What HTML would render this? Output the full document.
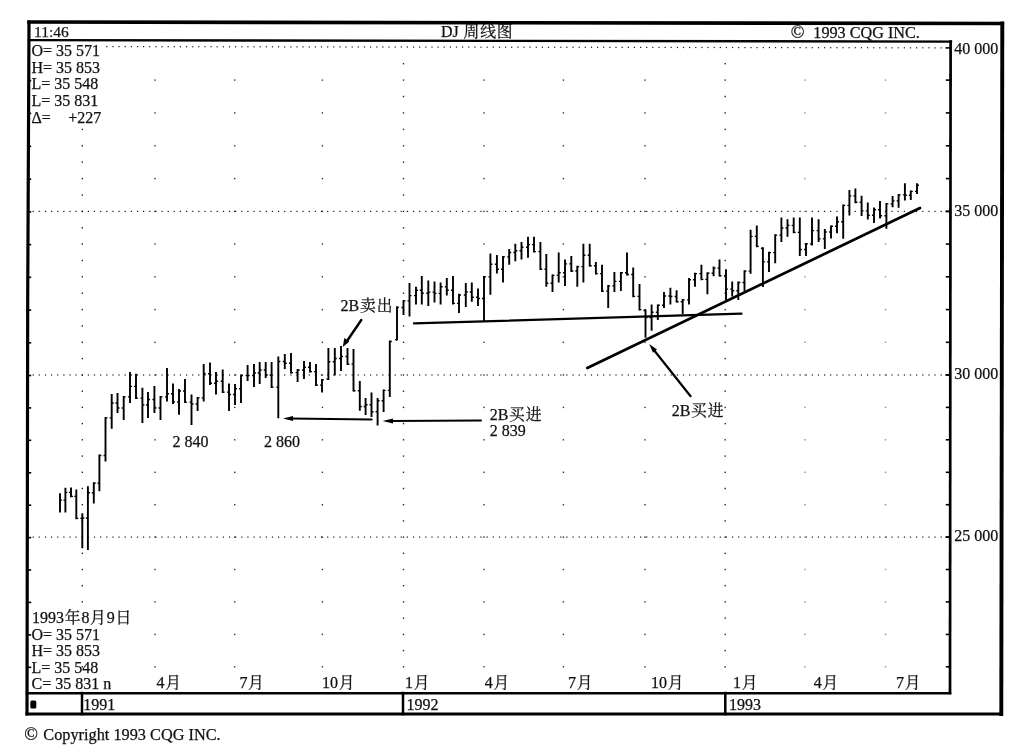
<!DOCTYPE html>
<html lang="zh"><head><meta charset="utf-8"><title>DJ 周线图</title>
<style>html,body{margin:0;padding:0;background:#fff}body{width:1024px;height:753px;overflow:hidden}svg{display:block;will-change:transform}text{font-family:"Liberation Serif","Noto Serif CJK SC",serif;font-size:16px;fill:#111;stroke:#111;stroke-width:.25px}.c{font-size:15.8px;letter-spacing:.9px}</style></head><body>
<svg width="1024" height="753" viewBox="0 0 1024 753">
<rect width="1024" height="753" fill="#fff"/>
<g stroke="#000" fill="none" stroke-linecap="square">
<path d="M29 22 L1002.3 23.5" stroke-width="3.6"/>
<path d="M29 22 L27.7 300 L27 714" stroke-width="3.2"/>
<path d="M1002.3 23.5 L1001.3 714" stroke-width="3.9"/>
<path d="M27 714 L1001.3 714" stroke-width="3"/>
<path d="M29 40.1 L951 41.6" stroke-width="2.4"/>
<path d="M950.6 41.6 L950 693" stroke-width="2.7"/>
<path d="M27 693.2 L950 693.2" stroke-width="2.5"/>
<path d="M82 693 L82 714" stroke-width="2.5"/>
<path d="M403 693 L403 714" stroke-width="2.5"/>
<path d="M725.3 693 L725.3 714" stroke-width="2.5"/>
</g>
<rect x="30.3" y="700.6" width="6" height="8" rx="1.5" fill="#000"/>
<g stroke="#000" stroke-width="1.6">
<path d="M945.8 80.1 H950"/>
<path d="M28 80.6 H31.2"/>
<path d="M945.8 112.9 H950"/>
<path d="M28 113.4 H31.2"/>
<path d="M945.8 145.8 H950"/>
<path d="M28 146.3 H31.2"/>
<path d="M945.8 178.6 H950"/>
<path d="M28 179.1 H31.2"/>
<path d="M945.8 211.4 H950"/>
<path d="M28 211.9 H31.2"/>
<path d="M945.8 244.1 H950"/>
<path d="M28 244.6 H31.2"/>
<path d="M945.8 276.8 H950"/>
<path d="M28 277.3 H31.2"/>
<path d="M945.8 309.6 H950"/>
<path d="M28 310.1 H31.2"/>
<path d="M945.8 342.3 H950"/>
<path d="M28 342.8 H31.2"/>
<path d="M945.8 375.0 H950"/>
<path d="M28 375.5 H31.2"/>
<path d="M945.8 407.4 H950"/>
<path d="M28 407.9 H31.2"/>
<path d="M945.8 439.8 H950"/>
<path d="M28 440.3 H31.2"/>
<path d="M945.8 472.3 H950"/>
<path d="M28 472.8 H31.2"/>
<path d="M945.8 504.7 H950"/>
<path d="M28 505.2 H31.2"/>
<path d="M945.8 537.1 H950"/>
<path d="M28 537.6 H31.2"/>
<path d="M945.8 569.5 H950"/>
<path d="M28 570.0 H31.2"/>
<path d="M945.8 601.9 H950"/>
<path d="M28 602.4 H31.2"/>
<path d="M945.8 634.4 H950"/>
<path d="M28 634.9 H31.2"/>
<path d="M945.8 666.8 H950"/>
<path d="M28 667.3 H31.2"/>
<path d="M945.5 47.9 H950"/>
<path d="M945.5 211.4 H950"/>
<path d="M945.5 375.0 H950"/>
<path d="M945.5 537.1 H950"/>
</g>
<g fill="#000">
<rect x="106.2" y="46.0" width="1.2" height="1.2" opacity="0.90"/>
<rect x="112.4" y="46.0" width="1.2" height="1.2" opacity="0.90"/>
<rect x="118.5" y="46.0" width="1.2" height="1.2" opacity="0.90"/>
<rect x="124.6" y="46.0" width="1.2" height="1.2" opacity="0.90"/>
<rect x="130.8" y="46.0" width="1.2" height="1.2" opacity="0.90"/>
<rect x="136.9" y="46.0" width="1.2" height="1.2" opacity="0.90"/>
<rect x="143.0" y="46.0" width="1.2" height="1.2" opacity="0.90"/>
<rect x="149.2" y="46.1" width="1.2" height="1.2" opacity="0.90"/>
<rect x="155.3" y="46.1" width="1.2" height="1.2" opacity="0.90"/>
<rect x="161.4" y="46.1" width="1.2" height="1.2" opacity="0.90"/>
<rect x="167.6" y="46.1" width="1.2" height="1.2" opacity="0.90"/>
<rect x="173.7" y="46.1" width="1.2" height="1.2" opacity="0.90"/>
<rect x="179.8" y="46.1" width="1.2" height="1.2" opacity="0.90"/>
<rect x="186.0" y="46.1" width="1.2" height="1.2" opacity="0.90"/>
<rect x="192.1" y="46.1" width="1.2" height="1.2" opacity="0.90"/>
<rect x="198.2" y="46.1" width="1.2" height="1.2" opacity="0.90"/>
<rect x="204.4" y="46.1" width="1.2" height="1.2" opacity="0.90"/>
<rect x="210.5" y="46.1" width="1.2" height="1.2" opacity="0.90"/>
<rect x="216.6" y="46.2" width="1.2" height="1.2" opacity="0.90"/>
<rect x="222.8" y="46.2" width="1.2" height="1.2" opacity="0.90"/>
<rect x="228.9" y="46.2" width="1.2" height="1.2" opacity="0.90"/>
<rect x="235.0" y="46.2" width="1.2" height="1.2" opacity="0.90"/>
<rect x="241.2" y="46.2" width="1.2" height="1.2" opacity="0.90"/>
<rect x="247.3" y="46.2" width="1.2" height="1.2" opacity="0.90"/>
<rect x="253.5" y="46.2" width="1.2" height="1.2" opacity="0.90"/>
<rect x="259.6" y="46.2" width="1.2" height="1.2" opacity="0.90"/>
<rect x="265.7" y="46.2" width="1.2" height="1.2" opacity="0.90"/>
<rect x="271.9" y="46.2" width="1.2" height="1.2" opacity="0.90"/>
<rect x="278.0" y="46.2" width="1.2" height="1.2" opacity="0.90"/>
<rect x="284.1" y="46.3" width="1.2" height="1.2" opacity="0.90"/>
<rect x="290.3" y="46.3" width="1.2" height="1.2" opacity="0.90"/>
<rect x="296.4" y="46.3" width="1.2" height="1.2" opacity="0.90"/>
<rect x="302.5" y="46.3" width="1.2" height="1.2" opacity="0.90"/>
<rect x="308.7" y="46.3" width="1.2" height="1.2" opacity="0.90"/>
<rect x="314.8" y="46.3" width="1.2" height="1.2" opacity="0.90"/>
<rect x="320.9" y="46.3" width="1.2" height="1.2" opacity="0.90"/>
<rect x="327.1" y="46.3" width="1.2" height="1.2" opacity="0.90"/>
<rect x="333.2" y="46.3" width="1.2" height="1.2" opacity="0.90"/>
<rect x="339.3" y="46.3" width="1.2" height="1.2" opacity="0.90"/>
<rect x="345.5" y="46.4" width="1.2" height="1.2" opacity="0.90"/>
<rect x="351.6" y="46.4" width="1.2" height="1.2" opacity="0.90"/>
<rect x="357.7" y="46.4" width="1.2" height="1.2" opacity="0.90"/>
<rect x="363.9" y="46.4" width="1.2" height="1.2" opacity="0.90"/>
<rect x="370.0" y="46.4" width="1.2" height="1.2" opacity="0.90"/>
<rect x="376.2" y="46.4" width="1.2" height="1.2" opacity="0.90"/>
<rect x="382.3" y="46.4" width="1.2" height="1.2" opacity="0.90"/>
<rect x="388.4" y="46.4" width="1.2" height="1.2" opacity="0.90"/>
<rect x="394.6" y="46.4" width="1.2" height="1.2" opacity="0.90"/>
<rect x="400.7" y="46.4" width="1.2" height="1.2" opacity="0.90"/>
<rect x="406.8" y="46.4" width="1.2" height="1.2" opacity="0.90"/>
<rect x="413.0" y="46.5" width="1.2" height="1.2" opacity="0.90"/>
<rect x="419.1" y="46.5" width="1.2" height="1.2" opacity="0.90"/>
<rect x="425.2" y="46.5" width="1.2" height="1.2" opacity="0.90"/>
<rect x="431.4" y="46.5" width="1.2" height="1.2" opacity="0.90"/>
<rect x="437.5" y="46.5" width="1.2" height="1.2" opacity="0.90"/>
<rect x="443.6" y="46.5" width="1.2" height="1.2" opacity="0.90"/>
<rect x="449.8" y="46.5" width="1.2" height="1.2" opacity="0.90"/>
<rect x="455.9" y="46.5" width="1.2" height="1.2" opacity="0.90"/>
<rect x="462.0" y="46.5" width="1.2" height="1.2" opacity="0.90"/>
<rect x="468.2" y="46.5" width="1.2" height="1.2" opacity="0.90"/>
<rect x="474.3" y="46.5" width="1.2" height="1.2" opacity="0.90"/>
<rect x="480.4" y="46.6" width="1.2" height="1.2" opacity="0.90"/>
<rect x="486.6" y="46.6" width="1.2" height="1.2" opacity="0.90"/>
<rect x="492.7" y="46.6" width="1.2" height="1.2" opacity="0.90"/>
<rect x="498.9" y="46.6" width="1.2" height="1.2" opacity="0.90"/>
<rect x="505.0" y="46.6" width="1.2" height="1.2" opacity="0.90"/>
<rect x="511.1" y="46.6" width="1.2" height="1.2" opacity="0.90"/>
<rect x="517.3" y="46.6" width="1.2" height="1.2" opacity="0.90"/>
<rect x="523.4" y="46.6" width="1.2" height="1.2" opacity="0.90"/>
<rect x="529.5" y="46.6" width="1.2" height="1.2" opacity="0.90"/>
<rect x="535.7" y="46.6" width="1.2" height="1.2" opacity="0.90"/>
<rect x="541.8" y="46.7" width="1.2" height="1.2" opacity="0.90"/>
<rect x="547.9" y="46.7" width="1.2" height="1.2" opacity="0.90"/>
<rect x="554.1" y="46.7" width="1.2" height="1.2" opacity="0.90"/>
<rect x="560.2" y="46.7" width="1.2" height="1.2" opacity="0.90"/>
<rect x="566.3" y="46.7" width="1.2" height="1.2" opacity="0.90"/>
<rect x="572.5" y="46.7" width="1.2" height="1.2" opacity="0.90"/>
<rect x="578.6" y="46.7" width="1.2" height="1.2" opacity="0.90"/>
<rect x="584.7" y="46.7" width="1.2" height="1.2" opacity="0.90"/>
<rect x="590.9" y="46.7" width="1.2" height="1.2" opacity="0.90"/>
<rect x="597.0" y="46.7" width="1.2" height="1.2" opacity="0.90"/>
<rect x="603.1" y="46.7" width="1.2" height="1.2" opacity="0.90"/>
<rect x="609.3" y="46.8" width="1.2" height="1.2" opacity="0.90"/>
<rect x="615.4" y="46.8" width="1.2" height="1.2" opacity="0.90"/>
<rect x="621.6" y="46.8" width="1.2" height="1.2" opacity="0.90"/>
<rect x="627.7" y="46.8" width="1.2" height="1.2" opacity="0.90"/>
<rect x="633.8" y="46.8" width="1.2" height="1.2" opacity="0.90"/>
<rect x="640.0" y="46.8" width="1.2" height="1.2" opacity="0.90"/>
<rect x="646.1" y="46.8" width="1.2" height="1.2" opacity="0.90"/>
<rect x="652.2" y="46.8" width="1.2" height="1.2" opacity="0.90"/>
<rect x="658.4" y="46.8" width="1.2" height="1.2" opacity="0.90"/>
<rect x="664.5" y="46.8" width="1.2" height="1.2" opacity="0.90"/>
<rect x="670.6" y="46.8" width="1.2" height="1.2" opacity="0.90"/>
<rect x="676.8" y="46.9" width="1.2" height="1.2" opacity="0.90"/>
<rect x="682.9" y="46.9" width="1.2" height="1.2" opacity="0.90"/>
<rect x="689.0" y="46.9" width="1.2" height="1.2" opacity="0.90"/>
<rect x="695.2" y="46.9" width="1.2" height="1.2" opacity="0.90"/>
<rect x="701.3" y="46.9" width="1.2" height="1.2" opacity="0.90"/>
<rect x="707.4" y="46.9" width="1.2" height="1.2" opacity="0.90"/>
<rect x="713.6" y="46.9" width="1.2" height="1.2" opacity="0.90"/>
<rect x="719.7" y="46.9" width="1.2" height="1.2" opacity="0.90"/>
<rect x="725.8" y="46.9" width="1.2" height="1.2" opacity="0.90"/>
<rect x="732.0" y="46.9" width="1.2" height="1.2" opacity="0.90"/>
<rect x="738.1" y="47.0" width="1.2" height="1.2" opacity="0.90"/>
<rect x="744.3" y="47.0" width="1.2" height="1.2" opacity="0.90"/>
<rect x="750.4" y="47.0" width="1.2" height="1.2" opacity="0.90"/>
<rect x="756.5" y="47.0" width="1.2" height="1.2" opacity="0.90"/>
<rect x="762.7" y="47.0" width="1.2" height="1.2" opacity="0.90"/>
<rect x="768.8" y="47.0" width="1.2" height="1.2" opacity="0.90"/>
<rect x="774.9" y="47.0" width="1.2" height="1.2" opacity="0.90"/>
<rect x="781.1" y="47.0" width="1.2" height="1.2" opacity="0.90"/>
<rect x="787.2" y="47.0" width="1.2" height="1.2" opacity="0.90"/>
<rect x="793.3" y="47.0" width="1.2" height="1.2" opacity="0.90"/>
<rect x="799.5" y="47.0" width="1.2" height="1.2" opacity="0.90"/>
<rect x="805.6" y="47.1" width="1.2" height="1.2" opacity="0.90"/>
<rect x="811.7" y="47.1" width="1.2" height="1.2" opacity="0.90"/>
<rect x="817.9" y="47.1" width="1.2" height="1.2" opacity="0.90"/>
<rect x="824.0" y="47.1" width="1.2" height="1.2" opacity="0.90"/>
<rect x="830.1" y="47.1" width="1.2" height="1.2" opacity="0.90"/>
<rect x="836.3" y="47.1" width="1.2" height="1.2" opacity="0.90"/>
<rect x="842.4" y="47.1" width="1.2" height="1.2" opacity="0.90"/>
<rect x="848.5" y="47.1" width="1.2" height="1.2" opacity="0.90"/>
<rect x="854.7" y="47.1" width="1.2" height="1.2" opacity="0.90"/>
<rect x="860.8" y="47.1" width="1.2" height="1.2" opacity="0.90"/>
<rect x="867.0" y="47.1" width="1.2" height="1.2" opacity="0.90"/>
<rect x="873.1" y="47.2" width="1.2" height="1.2" opacity="0.90"/>
<rect x="879.2" y="47.2" width="1.2" height="1.2" opacity="0.90"/>
<rect x="885.4" y="47.2" width="1.2" height="1.2" opacity="0.90"/>
<rect x="891.5" y="47.2" width="1.2" height="1.2" opacity="0.90"/>
<rect x="897.6" y="47.2" width="1.2" height="1.2" opacity="0.90"/>
<rect x="903.8" y="47.2" width="1.2" height="1.2" opacity="0.90"/>
<rect x="909.9" y="47.2" width="1.2" height="1.2" opacity="0.90"/>
<rect x="916.0" y="47.2" width="1.2" height="1.2" opacity="0.90"/>
<rect x="922.2" y="47.2" width="1.2" height="1.2" opacity="0.90"/>
<rect x="928.3" y="47.2" width="1.2" height="1.2" opacity="0.90"/>
<rect x="934.4" y="47.3" width="1.2" height="1.2" opacity="0.90"/>
<rect x="940.6" y="47.3" width="1.2" height="1.2" opacity="0.90"/>
<rect x="32.6" y="210.8" width="1.2" height="1.2" opacity="0.90"/>
<rect x="38.7" y="210.8" width="1.2" height="1.2" opacity="0.90"/>
<rect x="44.9" y="210.8" width="1.2" height="1.2" opacity="0.90"/>
<rect x="51.0" y="210.8" width="1.2" height="1.2" opacity="0.90"/>
<rect x="57.1" y="210.8" width="1.2" height="1.2" opacity="0.90"/>
<rect x="63.3" y="210.8" width="1.2" height="1.2" opacity="0.90"/>
<rect x="69.4" y="210.8" width="1.2" height="1.2" opacity="0.90"/>
<rect x="75.5" y="210.8" width="1.2" height="1.2" opacity="0.90"/>
<rect x="81.7" y="210.8" width="1.2" height="1.2" opacity="0.90"/>
<rect x="87.8" y="210.8" width="1.2" height="1.2" opacity="0.90"/>
<rect x="93.9" y="210.8" width="1.2" height="1.2" opacity="0.90"/>
<rect x="100.1" y="210.8" width="1.2" height="1.2" opacity="0.90"/>
<rect x="106.2" y="210.8" width="1.2" height="1.2" opacity="0.90"/>
<rect x="112.4" y="210.8" width="1.2" height="1.2" opacity="0.90"/>
<rect x="118.5" y="210.8" width="1.2" height="1.2" opacity="0.90"/>
<rect x="124.6" y="210.8" width="1.2" height="1.2" opacity="0.90"/>
<rect x="130.8" y="210.8" width="1.2" height="1.2" opacity="0.90"/>
<rect x="136.9" y="210.8" width="1.2" height="1.2" opacity="0.90"/>
<rect x="143.0" y="210.8" width="1.2" height="1.2" opacity="0.90"/>
<rect x="149.2" y="210.8" width="1.2" height="1.2" opacity="0.90"/>
<rect x="155.3" y="210.8" width="1.2" height="1.2" opacity="0.90"/>
<rect x="161.4" y="210.8" width="1.2" height="1.2" opacity="0.90"/>
<rect x="167.6" y="210.8" width="1.2" height="1.2" opacity="0.90"/>
<rect x="173.7" y="210.8" width="1.2" height="1.2" opacity="0.90"/>
<rect x="179.8" y="210.8" width="1.2" height="1.2" opacity="0.90"/>
<rect x="186.0" y="210.8" width="1.2" height="1.2" opacity="0.90"/>
<rect x="192.1" y="210.8" width="1.2" height="1.2" opacity="0.90"/>
<rect x="198.2" y="210.8" width="1.2" height="1.2" opacity="0.90"/>
<rect x="204.4" y="210.8" width="1.2" height="1.2" opacity="0.90"/>
<rect x="210.5" y="210.8" width="1.2" height="1.2" opacity="0.90"/>
<rect x="216.6" y="210.8" width="1.2" height="1.2" opacity="0.90"/>
<rect x="222.8" y="210.8" width="1.2" height="1.2" opacity="0.90"/>
<rect x="228.9" y="210.8" width="1.2" height="1.2" opacity="0.90"/>
<rect x="235.0" y="210.8" width="1.2" height="1.2" opacity="0.90"/>
<rect x="241.2" y="210.8" width="1.2" height="1.2" opacity="0.90"/>
<rect x="247.3" y="210.8" width="1.2" height="1.2" opacity="0.90"/>
<rect x="253.5" y="210.8" width="1.2" height="1.2" opacity="0.90"/>
<rect x="259.6" y="210.8" width="1.2" height="1.2" opacity="0.90"/>
<rect x="265.7" y="210.8" width="1.2" height="1.2" opacity="0.90"/>
<rect x="271.9" y="210.8" width="1.2" height="1.2" opacity="0.90"/>
<rect x="278.0" y="210.8" width="1.2" height="1.2" opacity="0.90"/>
<rect x="284.1" y="210.8" width="1.2" height="1.2" opacity="0.90"/>
<rect x="290.3" y="210.8" width="1.2" height="1.2" opacity="0.90"/>
<rect x="296.4" y="210.8" width="1.2" height="1.2" opacity="0.90"/>
<rect x="302.5" y="210.8" width="1.2" height="1.2" opacity="0.90"/>
<rect x="308.7" y="210.8" width="1.2" height="1.2" opacity="0.90"/>
<rect x="314.8" y="210.8" width="1.2" height="1.2" opacity="0.90"/>
<rect x="320.9" y="210.8" width="1.2" height="1.2" opacity="0.90"/>
<rect x="327.1" y="210.8" width="1.2" height="1.2" opacity="0.90"/>
<rect x="333.2" y="210.8" width="1.2" height="1.2" opacity="0.90"/>
<rect x="339.3" y="210.8" width="1.2" height="1.2" opacity="0.90"/>
<rect x="345.5" y="210.8" width="1.2" height="1.2" opacity="0.90"/>
<rect x="351.6" y="210.8" width="1.2" height="1.2" opacity="0.90"/>
<rect x="357.7" y="210.8" width="1.2" height="1.2" opacity="0.90"/>
<rect x="363.9" y="210.8" width="1.2" height="1.2" opacity="0.90"/>
<rect x="370.0" y="210.8" width="1.2" height="1.2" opacity="0.90"/>
<rect x="376.2" y="210.8" width="1.2" height="1.2" opacity="0.90"/>
<rect x="382.3" y="210.8" width="1.2" height="1.2" opacity="0.90"/>
<rect x="388.4" y="210.8" width="1.2" height="1.2" opacity="0.90"/>
<rect x="394.6" y="210.8" width="1.2" height="1.2" opacity="0.90"/>
<rect x="400.7" y="210.8" width="1.2" height="1.2" opacity="0.90"/>
<rect x="406.8" y="210.8" width="1.2" height="1.2" opacity="0.90"/>
<rect x="413.0" y="210.8" width="1.2" height="1.2" opacity="0.90"/>
<rect x="419.1" y="210.8" width="1.2" height="1.2" opacity="0.90"/>
<rect x="425.2" y="210.8" width="1.2" height="1.2" opacity="0.90"/>
<rect x="431.4" y="210.8" width="1.2" height="1.2" opacity="0.90"/>
<rect x="437.5" y="210.8" width="1.2" height="1.2" opacity="0.90"/>
<rect x="443.6" y="210.8" width="1.2" height="1.2" opacity="0.90"/>
<rect x="449.8" y="210.8" width="1.2" height="1.2" opacity="0.90"/>
<rect x="455.9" y="210.8" width="1.2" height="1.2" opacity="0.90"/>
<rect x="462.0" y="210.8" width="1.2" height="1.2" opacity="0.90"/>
<rect x="468.2" y="210.8" width="1.2" height="1.2" opacity="0.90"/>
<rect x="474.3" y="210.8" width="1.2" height="1.2" opacity="0.90"/>
<rect x="480.4" y="210.8" width="1.2" height="1.2" opacity="0.90"/>
<rect x="486.6" y="210.8" width="1.2" height="1.2" opacity="0.90"/>
<rect x="492.7" y="210.8" width="1.2" height="1.2" opacity="0.90"/>
<rect x="498.9" y="210.8" width="1.2" height="1.2" opacity="0.90"/>
<rect x="505.0" y="210.8" width="1.2" height="1.2" opacity="0.90"/>
<rect x="511.1" y="210.8" width="1.2" height="1.2" opacity="0.90"/>
<rect x="517.3" y="210.8" width="1.2" height="1.2" opacity="0.90"/>
<rect x="523.4" y="210.8" width="1.2" height="1.2" opacity="0.90"/>
<rect x="529.5" y="210.8" width="1.2" height="1.2" opacity="0.90"/>
<rect x="535.7" y="210.8" width="1.2" height="1.2" opacity="0.90"/>
<rect x="541.8" y="210.8" width="1.2" height="1.2" opacity="0.90"/>
<rect x="547.9" y="210.8" width="1.2" height="1.2" opacity="0.90"/>
<rect x="554.1" y="210.8" width="1.2" height="1.2" opacity="0.90"/>
<rect x="560.2" y="210.8" width="1.2" height="1.2" opacity="0.90"/>
<rect x="566.3" y="210.8" width="1.2" height="1.2" opacity="0.90"/>
<rect x="572.5" y="210.8" width="1.2" height="1.2" opacity="0.90"/>
<rect x="578.6" y="210.8" width="1.2" height="1.2" opacity="0.90"/>
<rect x="584.7" y="210.8" width="1.2" height="1.2" opacity="0.90"/>
<rect x="590.9" y="210.8" width="1.2" height="1.2" opacity="0.90"/>
<rect x="597.0" y="210.8" width="1.2" height="1.2" opacity="0.90"/>
<rect x="603.1" y="210.8" width="1.2" height="1.2" opacity="0.90"/>
<rect x="609.3" y="210.8" width="1.2" height="1.2" opacity="0.90"/>
<rect x="615.4" y="210.8" width="1.2" height="1.2" opacity="0.90"/>
<rect x="621.6" y="210.8" width="1.2" height="1.2" opacity="0.90"/>
<rect x="627.7" y="210.8" width="1.2" height="1.2" opacity="0.90"/>
<rect x="633.8" y="210.8" width="1.2" height="1.2" opacity="0.90"/>
<rect x="640.0" y="210.8" width="1.2" height="1.2" opacity="0.90"/>
<rect x="646.1" y="210.8" width="1.2" height="1.2" opacity="0.90"/>
<rect x="652.2" y="210.8" width="1.2" height="1.2" opacity="0.90"/>
<rect x="658.4" y="210.8" width="1.2" height="1.2" opacity="0.90"/>
<rect x="664.5" y="210.8" width="1.2" height="1.2" opacity="0.90"/>
<rect x="670.6" y="210.8" width="1.2" height="1.2" opacity="0.90"/>
<rect x="676.8" y="210.8" width="1.2" height="1.2" opacity="0.90"/>
<rect x="682.9" y="210.8" width="1.2" height="1.2" opacity="0.90"/>
<rect x="689.0" y="210.8" width="1.2" height="1.2" opacity="0.90"/>
<rect x="695.2" y="210.8" width="1.2" height="1.2" opacity="0.90"/>
<rect x="701.3" y="210.8" width="1.2" height="1.2" opacity="0.90"/>
<rect x="707.4" y="210.8" width="1.2" height="1.2" opacity="0.90"/>
<rect x="713.6" y="210.8" width="1.2" height="1.2" opacity="0.90"/>
<rect x="719.7" y="210.8" width="1.2" height="1.2" opacity="0.90"/>
<rect x="725.8" y="210.8" width="1.2" height="1.2" opacity="0.90"/>
<rect x="732.0" y="210.8" width="1.2" height="1.2" opacity="0.90"/>
<rect x="738.1" y="210.8" width="1.2" height="1.2" opacity="0.90"/>
<rect x="744.3" y="210.8" width="1.2" height="1.2" opacity="0.90"/>
<rect x="750.4" y="210.8" width="1.2" height="1.2" opacity="0.90"/>
<rect x="756.5" y="210.8" width="1.2" height="1.2" opacity="0.90"/>
<rect x="762.7" y="210.8" width="1.2" height="1.2" opacity="0.90"/>
<rect x="768.8" y="210.8" width="1.2" height="1.2" opacity="0.90"/>
<rect x="774.9" y="210.8" width="1.2" height="1.2" opacity="0.90"/>
<rect x="781.1" y="210.8" width="1.2" height="1.2" opacity="0.90"/>
<rect x="787.2" y="210.8" width="1.2" height="1.2" opacity="0.90"/>
<rect x="793.3" y="210.8" width="1.2" height="1.2" opacity="0.90"/>
<rect x="799.5" y="210.8" width="1.2" height="1.2" opacity="0.90"/>
<rect x="805.6" y="210.8" width="1.2" height="1.2" opacity="0.90"/>
<rect x="811.7" y="210.8" width="1.2" height="1.2" opacity="0.90"/>
<rect x="817.9" y="210.8" width="1.2" height="1.2" opacity="0.90"/>
<rect x="824.0" y="210.8" width="1.2" height="1.2" opacity="0.90"/>
<rect x="830.1" y="210.8" width="1.2" height="1.2" opacity="0.90"/>
<rect x="836.3" y="210.8" width="1.2" height="1.2" opacity="0.90"/>
<rect x="842.4" y="210.8" width="1.2" height="1.2" opacity="0.90"/>
<rect x="848.5" y="210.8" width="1.2" height="1.2" opacity="0.90"/>
<rect x="854.7" y="210.8" width="1.2" height="1.2" opacity="0.90"/>
<rect x="860.8" y="210.8" width="1.2" height="1.2" opacity="0.90"/>
<rect x="867.0" y="210.8" width="1.2" height="1.2" opacity="0.90"/>
<rect x="873.1" y="210.8" width="1.2" height="1.2" opacity="0.90"/>
<rect x="879.2" y="210.8" width="1.2" height="1.2" opacity="0.90"/>
<rect x="885.4" y="210.8" width="1.2" height="1.2" opacity="0.90"/>
<rect x="891.5" y="210.8" width="1.2" height="1.2" opacity="0.90"/>
<rect x="897.6" y="210.8" width="1.2" height="1.2" opacity="0.90"/>
<rect x="903.8" y="210.8" width="1.2" height="1.2" opacity="0.90"/>
<rect x="909.9" y="210.8" width="1.2" height="1.2" opacity="0.90"/>
<rect x="916.0" y="210.8" width="1.2" height="1.2" opacity="0.90"/>
<rect x="922.2" y="210.8" width="1.2" height="1.2" opacity="0.90"/>
<rect x="928.3" y="210.8" width="1.2" height="1.2" opacity="0.90"/>
<rect x="934.4" y="210.8" width="1.2" height="1.2" opacity="0.90"/>
<rect x="940.6" y="210.8" width="1.2" height="1.2" opacity="0.90"/>
<rect x="32.6" y="374.4" width="1.2" height="1.2" opacity="0.90"/>
<rect x="38.7" y="374.4" width="1.2" height="1.2" opacity="0.90"/>
<rect x="44.9" y="374.4" width="1.2" height="1.2" opacity="0.90"/>
<rect x="51.0" y="374.4" width="1.2" height="1.2" opacity="0.90"/>
<rect x="57.1" y="374.4" width="1.2" height="1.2" opacity="0.90"/>
<rect x="63.3" y="374.4" width="1.2" height="1.2" opacity="0.90"/>
<rect x="69.4" y="374.4" width="1.2" height="1.2" opacity="0.90"/>
<rect x="75.5" y="374.4" width="1.2" height="1.2" opacity="0.90"/>
<rect x="81.7" y="374.4" width="1.2" height="1.2" opacity="0.90"/>
<rect x="87.8" y="374.4" width="1.2" height="1.2" opacity="0.90"/>
<rect x="93.9" y="374.4" width="1.2" height="1.2" opacity="0.90"/>
<rect x="100.1" y="374.4" width="1.2" height="1.2" opacity="0.90"/>
<rect x="106.2" y="374.4" width="1.2" height="1.2" opacity="0.90"/>
<rect x="112.4" y="374.4" width="1.2" height="1.2" opacity="0.90"/>
<rect x="118.5" y="374.4" width="1.2" height="1.2" opacity="0.90"/>
<rect x="124.6" y="374.4" width="1.2" height="1.2" opacity="0.90"/>
<rect x="130.8" y="374.4" width="1.2" height="1.2" opacity="0.90"/>
<rect x="136.9" y="374.4" width="1.2" height="1.2" opacity="0.90"/>
<rect x="143.0" y="374.4" width="1.2" height="1.2" opacity="0.90"/>
<rect x="149.2" y="374.4" width="1.2" height="1.2" opacity="0.90"/>
<rect x="155.3" y="374.4" width="1.2" height="1.2" opacity="0.90"/>
<rect x="161.4" y="374.4" width="1.2" height="1.2" opacity="0.90"/>
<rect x="167.6" y="374.4" width="1.2" height="1.2" opacity="0.90"/>
<rect x="173.7" y="374.4" width="1.2" height="1.2" opacity="0.90"/>
<rect x="179.8" y="374.4" width="1.2" height="1.2" opacity="0.90"/>
<rect x="186.0" y="374.4" width="1.2" height="1.2" opacity="0.90"/>
<rect x="192.1" y="374.4" width="1.2" height="1.2" opacity="0.90"/>
<rect x="198.2" y="374.4" width="1.2" height="1.2" opacity="0.90"/>
<rect x="204.4" y="374.4" width="1.2" height="1.2" opacity="0.90"/>
<rect x="210.5" y="374.4" width="1.2" height="1.2" opacity="0.90"/>
<rect x="216.6" y="374.4" width="1.2" height="1.2" opacity="0.90"/>
<rect x="222.8" y="374.4" width="1.2" height="1.2" opacity="0.90"/>
<rect x="228.9" y="374.4" width="1.2" height="1.2" opacity="0.90"/>
<rect x="235.0" y="374.4" width="1.2" height="1.2" opacity="0.90"/>
<rect x="241.2" y="374.4" width="1.2" height="1.2" opacity="0.90"/>
<rect x="247.3" y="374.4" width="1.2" height="1.2" opacity="0.90"/>
<rect x="253.5" y="374.4" width="1.2" height="1.2" opacity="0.90"/>
<rect x="259.6" y="374.4" width="1.2" height="1.2" opacity="0.90"/>
<rect x="265.7" y="374.4" width="1.2" height="1.2" opacity="0.90"/>
<rect x="271.9" y="374.4" width="1.2" height="1.2" opacity="0.90"/>
<rect x="278.0" y="374.4" width="1.2" height="1.2" opacity="0.90"/>
<rect x="284.1" y="374.4" width="1.2" height="1.2" opacity="0.90"/>
<rect x="290.3" y="374.4" width="1.2" height="1.2" opacity="0.90"/>
<rect x="296.4" y="374.4" width="1.2" height="1.2" opacity="0.90"/>
<rect x="302.5" y="374.4" width="1.2" height="1.2" opacity="0.90"/>
<rect x="308.7" y="374.4" width="1.2" height="1.2" opacity="0.90"/>
<rect x="314.8" y="374.4" width="1.2" height="1.2" opacity="0.90"/>
<rect x="320.9" y="374.4" width="1.2" height="1.2" opacity="0.90"/>
<rect x="327.1" y="374.4" width="1.2" height="1.2" opacity="0.90"/>
<rect x="333.2" y="374.4" width="1.2" height="1.2" opacity="0.90"/>
<rect x="339.3" y="374.4" width="1.2" height="1.2" opacity="0.90"/>
<rect x="345.5" y="374.4" width="1.2" height="1.2" opacity="0.90"/>
<rect x="351.6" y="374.4" width="1.2" height="1.2" opacity="0.90"/>
<rect x="357.7" y="374.4" width="1.2" height="1.2" opacity="0.90"/>
<rect x="363.9" y="374.4" width="1.2" height="1.2" opacity="0.90"/>
<rect x="370.0" y="374.4" width="1.2" height="1.2" opacity="0.90"/>
<rect x="376.2" y="374.4" width="1.2" height="1.2" opacity="0.90"/>
<rect x="382.3" y="374.4" width="1.2" height="1.2" opacity="0.90"/>
<rect x="388.4" y="374.4" width="1.2" height="1.2" opacity="0.90"/>
<rect x="394.6" y="374.4" width="1.2" height="1.2" opacity="0.90"/>
<rect x="400.7" y="374.4" width="1.2" height="1.2" opacity="0.90"/>
<rect x="406.8" y="374.4" width="1.2" height="1.2" opacity="0.90"/>
<rect x="413.0" y="374.4" width="1.2" height="1.2" opacity="0.90"/>
<rect x="419.1" y="374.4" width="1.2" height="1.2" opacity="0.90"/>
<rect x="425.2" y="374.4" width="1.2" height="1.2" opacity="0.90"/>
<rect x="431.4" y="374.4" width="1.2" height="1.2" opacity="0.90"/>
<rect x="437.5" y="374.4" width="1.2" height="1.2" opacity="0.90"/>
<rect x="443.6" y="374.4" width="1.2" height="1.2" opacity="0.90"/>
<rect x="449.8" y="374.4" width="1.2" height="1.2" opacity="0.90"/>
<rect x="455.9" y="374.4" width="1.2" height="1.2" opacity="0.90"/>
<rect x="462.0" y="374.4" width="1.2" height="1.2" opacity="0.90"/>
<rect x="468.2" y="374.4" width="1.2" height="1.2" opacity="0.90"/>
<rect x="474.3" y="374.4" width="1.2" height="1.2" opacity="0.90"/>
<rect x="480.4" y="374.4" width="1.2" height="1.2" opacity="0.90"/>
<rect x="486.6" y="374.4" width="1.2" height="1.2" opacity="0.90"/>
<rect x="492.7" y="374.4" width="1.2" height="1.2" opacity="0.90"/>
<rect x="498.9" y="374.4" width="1.2" height="1.2" opacity="0.90"/>
<rect x="505.0" y="374.4" width="1.2" height="1.2" opacity="0.90"/>
<rect x="511.1" y="374.4" width="1.2" height="1.2" opacity="0.90"/>
<rect x="517.3" y="374.4" width="1.2" height="1.2" opacity="0.90"/>
<rect x="523.4" y="374.4" width="1.2" height="1.2" opacity="0.90"/>
<rect x="529.5" y="374.4" width="1.2" height="1.2" opacity="0.90"/>
<rect x="535.7" y="374.4" width="1.2" height="1.2" opacity="0.90"/>
<rect x="541.8" y="374.4" width="1.2" height="1.2" opacity="0.90"/>
<rect x="547.9" y="374.4" width="1.2" height="1.2" opacity="0.90"/>
<rect x="554.1" y="374.4" width="1.2" height="1.2" opacity="0.90"/>
<rect x="560.2" y="374.4" width="1.2" height="1.2" opacity="0.90"/>
<rect x="566.3" y="374.4" width="1.2" height="1.2" opacity="0.90"/>
<rect x="572.5" y="374.4" width="1.2" height="1.2" opacity="0.90"/>
<rect x="578.6" y="374.4" width="1.2" height="1.2" opacity="0.90"/>
<rect x="584.7" y="374.4" width="1.2" height="1.2" opacity="0.90"/>
<rect x="590.9" y="374.4" width="1.2" height="1.2" opacity="0.90"/>
<rect x="597.0" y="374.4" width="1.2" height="1.2" opacity="0.90"/>
<rect x="603.1" y="374.4" width="1.2" height="1.2" opacity="0.90"/>
<rect x="609.3" y="374.4" width="1.2" height="1.2" opacity="0.90"/>
<rect x="615.4" y="374.4" width="1.2" height="1.2" opacity="0.90"/>
<rect x="621.6" y="374.4" width="1.2" height="1.2" opacity="0.90"/>
<rect x="627.7" y="374.4" width="1.2" height="1.2" opacity="0.90"/>
<rect x="633.8" y="374.4" width="1.2" height="1.2" opacity="0.90"/>
<rect x="640.0" y="374.4" width="1.2" height="1.2" opacity="0.90"/>
<rect x="646.1" y="374.4" width="1.2" height="1.2" opacity="0.90"/>
<rect x="652.2" y="374.4" width="1.2" height="1.2" opacity="0.90"/>
<rect x="658.4" y="374.4" width="1.2" height="1.2" opacity="0.90"/>
<rect x="664.5" y="374.4" width="1.2" height="1.2" opacity="0.90"/>
<rect x="670.6" y="374.4" width="1.2" height="1.2" opacity="0.90"/>
<rect x="676.8" y="374.4" width="1.2" height="1.2" opacity="0.90"/>
<rect x="682.9" y="374.4" width="1.2" height="1.2" opacity="0.90"/>
<rect x="689.0" y="374.4" width="1.2" height="1.2" opacity="0.90"/>
<rect x="695.2" y="374.4" width="1.2" height="1.2" opacity="0.90"/>
<rect x="701.3" y="374.4" width="1.2" height="1.2" opacity="0.90"/>
<rect x="707.4" y="374.4" width="1.2" height="1.2" opacity="0.90"/>
<rect x="713.6" y="374.4" width="1.2" height="1.2" opacity="0.90"/>
<rect x="719.7" y="374.4" width="1.2" height="1.2" opacity="0.90"/>
<rect x="725.8" y="374.4" width="1.2" height="1.2" opacity="0.90"/>
<rect x="732.0" y="374.4" width="1.2" height="1.2" opacity="0.90"/>
<rect x="738.1" y="374.4" width="1.2" height="1.2" opacity="0.90"/>
<rect x="744.3" y="374.4" width="1.2" height="1.2" opacity="0.90"/>
<rect x="750.4" y="374.4" width="1.2" height="1.2" opacity="0.90"/>
<rect x="756.5" y="374.4" width="1.2" height="1.2" opacity="0.90"/>
<rect x="762.7" y="374.4" width="1.2" height="1.2" opacity="0.90"/>
<rect x="768.8" y="374.4" width="1.2" height="1.2" opacity="0.90"/>
<rect x="774.9" y="374.4" width="1.2" height="1.2" opacity="0.90"/>
<rect x="781.1" y="374.4" width="1.2" height="1.2" opacity="0.90"/>
<rect x="787.2" y="374.4" width="1.2" height="1.2" opacity="0.90"/>
<rect x="793.3" y="374.4" width="1.2" height="1.2" opacity="0.90"/>
<rect x="799.5" y="374.4" width="1.2" height="1.2" opacity="0.90"/>
<rect x="805.6" y="374.4" width="1.2" height="1.2" opacity="0.90"/>
<rect x="811.7" y="374.4" width="1.2" height="1.2" opacity="0.90"/>
<rect x="817.9" y="374.4" width="1.2" height="1.2" opacity="0.90"/>
<rect x="824.0" y="374.4" width="1.2" height="1.2" opacity="0.90"/>
<rect x="830.1" y="374.4" width="1.2" height="1.2" opacity="0.90"/>
<rect x="836.3" y="374.4" width="1.2" height="1.2" opacity="0.90"/>
<rect x="842.4" y="374.4" width="1.2" height="1.2" opacity="0.90"/>
<rect x="848.5" y="374.4" width="1.2" height="1.2" opacity="0.90"/>
<rect x="854.7" y="374.4" width="1.2" height="1.2" opacity="0.90"/>
<rect x="860.8" y="374.4" width="1.2" height="1.2" opacity="0.90"/>
<rect x="867.0" y="374.4" width="1.2" height="1.2" opacity="0.90"/>
<rect x="873.1" y="374.4" width="1.2" height="1.2" opacity="0.90"/>
<rect x="879.2" y="374.4" width="1.2" height="1.2" opacity="0.90"/>
<rect x="885.4" y="374.4" width="1.2" height="1.2" opacity="0.90"/>
<rect x="891.5" y="374.4" width="1.2" height="1.2" opacity="0.90"/>
<rect x="897.6" y="374.4" width="1.2" height="1.2" opacity="0.90"/>
<rect x="903.8" y="374.4" width="1.2" height="1.2" opacity="0.90"/>
<rect x="909.9" y="374.4" width="1.2" height="1.2" opacity="0.90"/>
<rect x="916.0" y="374.4" width="1.2" height="1.2" opacity="0.90"/>
<rect x="922.2" y="374.4" width="1.2" height="1.2" opacity="0.90"/>
<rect x="928.3" y="374.4" width="1.2" height="1.2" opacity="0.90"/>
<rect x="934.4" y="374.4" width="1.2" height="1.2" opacity="0.90"/>
<rect x="940.6" y="374.4" width="1.2" height="1.2" opacity="0.90"/>
<rect x="32.6" y="536.5" width="1.2" height="1.2" opacity="0.90"/>
<rect x="38.7" y="536.5" width="1.2" height="1.2" opacity="0.90"/>
<rect x="44.9" y="536.5" width="1.2" height="1.2" opacity="0.90"/>
<rect x="51.0" y="536.5" width="1.2" height="1.2" opacity="0.90"/>
<rect x="57.1" y="536.5" width="1.2" height="1.2" opacity="0.90"/>
<rect x="63.3" y="536.5" width="1.2" height="1.2" opacity="0.90"/>
<rect x="69.4" y="536.5" width="1.2" height="1.2" opacity="0.90"/>
<rect x="75.5" y="536.5" width="1.2" height="1.2" opacity="0.90"/>
<rect x="81.7" y="536.5" width="1.2" height="1.2" opacity="0.90"/>
<rect x="87.8" y="536.5" width="1.2" height="1.2" opacity="0.90"/>
<rect x="93.9" y="536.5" width="1.2" height="1.2" opacity="0.90"/>
<rect x="100.1" y="536.5" width="1.2" height="1.2" opacity="0.90"/>
<rect x="106.2" y="536.5" width="1.2" height="1.2" opacity="0.90"/>
<rect x="112.4" y="536.5" width="1.2" height="1.2" opacity="0.90"/>
<rect x="118.5" y="536.5" width="1.2" height="1.2" opacity="0.90"/>
<rect x="124.6" y="536.5" width="1.2" height="1.2" opacity="0.90"/>
<rect x="130.8" y="536.5" width="1.2" height="1.2" opacity="0.90"/>
<rect x="136.9" y="536.5" width="1.2" height="1.2" opacity="0.90"/>
<rect x="143.0" y="536.5" width="1.2" height="1.2" opacity="0.90"/>
<rect x="149.2" y="536.5" width="1.2" height="1.2" opacity="0.90"/>
<rect x="155.3" y="536.5" width="1.2" height="1.2" opacity="0.90"/>
<rect x="161.4" y="536.5" width="1.2" height="1.2" opacity="0.90"/>
<rect x="167.6" y="536.5" width="1.2" height="1.2" opacity="0.90"/>
<rect x="173.7" y="536.5" width="1.2" height="1.2" opacity="0.90"/>
<rect x="179.8" y="536.5" width="1.2" height="1.2" opacity="0.90"/>
<rect x="186.0" y="536.5" width="1.2" height="1.2" opacity="0.90"/>
<rect x="192.1" y="536.5" width="1.2" height="1.2" opacity="0.90"/>
<rect x="198.2" y="536.5" width="1.2" height="1.2" opacity="0.90"/>
<rect x="204.4" y="536.5" width="1.2" height="1.2" opacity="0.90"/>
<rect x="210.5" y="536.5" width="1.2" height="1.2" opacity="0.90"/>
<rect x="216.6" y="536.5" width="1.2" height="1.2" opacity="0.90"/>
<rect x="222.8" y="536.5" width="1.2" height="1.2" opacity="0.90"/>
<rect x="228.9" y="536.5" width="1.2" height="1.2" opacity="0.90"/>
<rect x="235.0" y="536.5" width="1.2" height="1.2" opacity="0.90"/>
<rect x="241.2" y="536.5" width="1.2" height="1.2" opacity="0.90"/>
<rect x="247.3" y="536.5" width="1.2" height="1.2" opacity="0.90"/>
<rect x="253.5" y="536.5" width="1.2" height="1.2" opacity="0.90"/>
<rect x="259.6" y="536.5" width="1.2" height="1.2" opacity="0.90"/>
<rect x="265.7" y="536.5" width="1.2" height="1.2" opacity="0.90"/>
<rect x="271.9" y="536.5" width="1.2" height="1.2" opacity="0.90"/>
<rect x="278.0" y="536.5" width="1.2" height="1.2" opacity="0.90"/>
<rect x="284.1" y="536.5" width="1.2" height="1.2" opacity="0.90"/>
<rect x="290.3" y="536.5" width="1.2" height="1.2" opacity="0.90"/>
<rect x="296.4" y="536.5" width="1.2" height="1.2" opacity="0.90"/>
<rect x="302.5" y="536.5" width="1.2" height="1.2" opacity="0.90"/>
<rect x="308.7" y="536.5" width="1.2" height="1.2" opacity="0.90"/>
<rect x="314.8" y="536.5" width="1.2" height="1.2" opacity="0.90"/>
<rect x="320.9" y="536.5" width="1.2" height="1.2" opacity="0.90"/>
<rect x="327.1" y="536.5" width="1.2" height="1.2" opacity="0.90"/>
<rect x="333.2" y="536.5" width="1.2" height="1.2" opacity="0.90"/>
<rect x="339.3" y="536.5" width="1.2" height="1.2" opacity="0.90"/>
<rect x="345.5" y="536.5" width="1.2" height="1.2" opacity="0.90"/>
<rect x="351.6" y="536.5" width="1.2" height="1.2" opacity="0.90"/>
<rect x="357.7" y="536.5" width="1.2" height="1.2" opacity="0.90"/>
<rect x="363.9" y="536.5" width="1.2" height="1.2" opacity="0.90"/>
<rect x="370.0" y="536.5" width="1.2" height="1.2" opacity="0.90"/>
<rect x="376.2" y="536.5" width="1.2" height="1.2" opacity="0.90"/>
<rect x="382.3" y="536.5" width="1.2" height="1.2" opacity="0.90"/>
<rect x="388.4" y="536.5" width="1.2" height="1.2" opacity="0.90"/>
<rect x="394.6" y="536.5" width="1.2" height="1.2" opacity="0.90"/>
<rect x="400.7" y="536.5" width="1.2" height="1.2" opacity="0.90"/>
<rect x="406.8" y="536.5" width="1.2" height="1.2" opacity="0.90"/>
<rect x="413.0" y="536.5" width="1.2" height="1.2" opacity="0.90"/>
<rect x="419.1" y="536.5" width="1.2" height="1.2" opacity="0.90"/>
<rect x="425.2" y="536.5" width="1.2" height="1.2" opacity="0.90"/>
<rect x="431.4" y="536.5" width="1.2" height="1.2" opacity="0.90"/>
<rect x="437.5" y="536.5" width="1.2" height="1.2" opacity="0.90"/>
<rect x="443.6" y="536.5" width="1.2" height="1.2" opacity="0.90"/>
<rect x="449.8" y="536.5" width="1.2" height="1.2" opacity="0.90"/>
<rect x="455.9" y="536.5" width="1.2" height="1.2" opacity="0.90"/>
<rect x="462.0" y="536.5" width="1.2" height="1.2" opacity="0.90"/>
<rect x="468.2" y="536.5" width="1.2" height="1.2" opacity="0.90"/>
<rect x="474.3" y="536.5" width="1.2" height="1.2" opacity="0.90"/>
<rect x="480.4" y="536.5" width="1.2" height="1.2" opacity="0.90"/>
<rect x="486.6" y="536.5" width="1.2" height="1.2" opacity="0.90"/>
<rect x="492.7" y="536.5" width="1.2" height="1.2" opacity="0.90"/>
<rect x="498.9" y="536.5" width="1.2" height="1.2" opacity="0.90"/>
<rect x="505.0" y="536.5" width="1.2" height="1.2" opacity="0.90"/>
<rect x="511.1" y="536.5" width="1.2" height="1.2" opacity="0.90"/>
<rect x="517.3" y="536.5" width="1.2" height="1.2" opacity="0.90"/>
<rect x="523.4" y="536.5" width="1.2" height="1.2" opacity="0.90"/>
<rect x="529.5" y="536.5" width="1.2" height="1.2" opacity="0.90"/>
<rect x="535.7" y="536.5" width="1.2" height="1.2" opacity="0.90"/>
<rect x="541.8" y="536.5" width="1.2" height="1.2" opacity="0.90"/>
<rect x="547.9" y="536.5" width="1.2" height="1.2" opacity="0.90"/>
<rect x="554.1" y="536.5" width="1.2" height="1.2" opacity="0.90"/>
<rect x="560.2" y="536.5" width="1.2" height="1.2" opacity="0.90"/>
<rect x="566.3" y="536.5" width="1.2" height="1.2" opacity="0.90"/>
<rect x="572.5" y="536.5" width="1.2" height="1.2" opacity="0.90"/>
<rect x="578.6" y="536.5" width="1.2" height="1.2" opacity="0.90"/>
<rect x="584.7" y="536.5" width="1.2" height="1.2" opacity="0.90"/>
<rect x="590.9" y="536.5" width="1.2" height="1.2" opacity="0.90"/>
<rect x="597.0" y="536.5" width="1.2" height="1.2" opacity="0.90"/>
<rect x="603.1" y="536.5" width="1.2" height="1.2" opacity="0.90"/>
<rect x="609.3" y="536.5" width="1.2" height="1.2" opacity="0.90"/>
<rect x="615.4" y="536.5" width="1.2" height="1.2" opacity="0.90"/>
<rect x="621.6" y="536.5" width="1.2" height="1.2" opacity="0.90"/>
<rect x="627.7" y="536.5" width="1.2" height="1.2" opacity="0.90"/>
<rect x="633.8" y="536.5" width="1.2" height="1.2" opacity="0.90"/>
<rect x="640.0" y="536.5" width="1.2" height="1.2" opacity="0.90"/>
<rect x="646.1" y="536.5" width="1.2" height="1.2" opacity="0.90"/>
<rect x="652.2" y="536.5" width="1.2" height="1.2" opacity="0.90"/>
<rect x="658.4" y="536.5" width="1.2" height="1.2" opacity="0.90"/>
<rect x="664.5" y="536.5" width="1.2" height="1.2" opacity="0.90"/>
<rect x="670.6" y="536.5" width="1.2" height="1.2" opacity="0.90"/>
<rect x="676.8" y="536.5" width="1.2" height="1.2" opacity="0.90"/>
<rect x="682.9" y="536.5" width="1.2" height="1.2" opacity="0.90"/>
<rect x="689.0" y="536.5" width="1.2" height="1.2" opacity="0.90"/>
<rect x="695.2" y="536.5" width="1.2" height="1.2" opacity="0.90"/>
<rect x="701.3" y="536.5" width="1.2" height="1.2" opacity="0.90"/>
<rect x="707.4" y="536.5" width="1.2" height="1.2" opacity="0.90"/>
<rect x="713.6" y="536.5" width="1.2" height="1.2" opacity="0.90"/>
<rect x="719.7" y="536.5" width="1.2" height="1.2" opacity="0.90"/>
<rect x="725.8" y="536.5" width="1.2" height="1.2" opacity="0.90"/>
<rect x="732.0" y="536.5" width="1.2" height="1.2" opacity="0.90"/>
<rect x="738.1" y="536.5" width="1.2" height="1.2" opacity="0.90"/>
<rect x="744.3" y="536.5" width="1.2" height="1.2" opacity="0.90"/>
<rect x="750.4" y="536.5" width="1.2" height="1.2" opacity="0.90"/>
<rect x="756.5" y="536.5" width="1.2" height="1.2" opacity="0.90"/>
<rect x="762.7" y="536.5" width="1.2" height="1.2" opacity="0.90"/>
<rect x="768.8" y="536.5" width="1.2" height="1.2" opacity="0.90"/>
<rect x="774.9" y="536.5" width="1.2" height="1.2" opacity="0.90"/>
<rect x="781.1" y="536.5" width="1.2" height="1.2" opacity="0.90"/>
<rect x="787.2" y="536.5" width="1.2" height="1.2" opacity="0.90"/>
<rect x="793.3" y="536.5" width="1.2" height="1.2" opacity="0.90"/>
<rect x="799.5" y="536.5" width="1.2" height="1.2" opacity="0.90"/>
<rect x="805.6" y="536.5" width="1.2" height="1.2" opacity="0.90"/>
<rect x="811.7" y="536.5" width="1.2" height="1.2" opacity="0.90"/>
<rect x="817.9" y="536.5" width="1.2" height="1.2" opacity="0.90"/>
<rect x="824.0" y="536.5" width="1.2" height="1.2" opacity="0.90"/>
<rect x="830.1" y="536.5" width="1.2" height="1.2" opacity="0.90"/>
<rect x="836.3" y="536.5" width="1.2" height="1.2" opacity="0.90"/>
<rect x="842.4" y="536.5" width="1.2" height="1.2" opacity="0.90"/>
<rect x="848.5" y="536.5" width="1.2" height="1.2" opacity="0.90"/>
<rect x="854.7" y="536.5" width="1.2" height="1.2" opacity="0.90"/>
<rect x="860.8" y="536.5" width="1.2" height="1.2" opacity="0.90"/>
<rect x="867.0" y="536.5" width="1.2" height="1.2" opacity="0.90"/>
<rect x="873.1" y="536.5" width="1.2" height="1.2" opacity="0.90"/>
<rect x="879.2" y="536.5" width="1.2" height="1.2" opacity="0.90"/>
<rect x="885.4" y="536.5" width="1.2" height="1.2" opacity="0.90"/>
<rect x="891.5" y="536.5" width="1.2" height="1.2" opacity="0.90"/>
<rect x="897.6" y="536.5" width="1.2" height="1.2" opacity="0.90"/>
<rect x="903.8" y="536.5" width="1.2" height="1.2" opacity="0.90"/>
<rect x="909.9" y="536.5" width="1.2" height="1.2" opacity="0.90"/>
<rect x="916.0" y="536.5" width="1.2" height="1.2" opacity="0.90"/>
<rect x="922.2" y="536.5" width="1.2" height="1.2" opacity="0.90"/>
<rect x="928.3" y="536.5" width="1.2" height="1.2" opacity="0.90"/>
<rect x="934.4" y="536.5" width="1.2" height="1.2" opacity="0.90"/>
<rect x="940.6" y="536.5" width="1.2" height="1.2" opacity="0.90"/>
<rect x="81.6" y="128.7" width="1.4" height="1.4" opacity="0.85"/>
<rect x="81.6" y="145.1" width="1.4" height="1.4" opacity="0.85"/>
<rect x="81.6" y="161.5" width="1.4" height="1.4" opacity="0.85"/>
<rect x="81.6" y="177.9" width="1.4" height="1.4" opacity="0.85"/>
<rect x="81.6" y="194.3" width="1.4" height="1.4" opacity="0.85"/>
<rect x="81.6" y="210.7" width="1.4" height="1.4" opacity="0.85"/>
<rect x="81.6" y="227.1" width="1.4" height="1.4" opacity="0.85"/>
<rect x="81.6" y="243.4" width="1.4" height="1.4" opacity="0.85"/>
<rect x="81.6" y="259.8" width="1.4" height="1.4" opacity="0.85"/>
<rect x="81.6" y="276.1" width="1.4" height="1.4" opacity="0.85"/>
<rect x="81.6" y="292.5" width="1.4" height="1.4" opacity="0.85"/>
<rect x="81.6" y="308.9" width="1.4" height="1.4" opacity="0.85"/>
<rect x="81.6" y="325.2" width="1.4" height="1.4" opacity="0.85"/>
<rect x="81.6" y="341.6" width="1.4" height="1.4" opacity="0.85"/>
<rect x="81.6" y="357.9" width="1.4" height="1.4" opacity="0.85"/>
<rect x="81.6" y="374.3" width="1.4" height="1.4" opacity="0.85"/>
<rect x="81.6" y="390.5" width="1.4" height="1.4" opacity="0.85"/>
<rect x="81.6" y="406.7" width="1.4" height="1.4" opacity="0.85"/>
<rect x="81.6" y="422.9" width="1.4" height="1.4" opacity="0.85"/>
<rect x="81.6" y="439.1" width="1.4" height="1.4" opacity="0.85"/>
<rect x="81.6" y="455.4" width="1.4" height="1.4" opacity="0.85"/>
<rect x="81.6" y="471.6" width="1.4" height="1.4" opacity="0.85"/>
<rect x="81.6" y="487.8" width="1.4" height="1.4" opacity="0.85"/>
<rect x="81.6" y="504.0" width="1.4" height="1.4" opacity="0.85"/>
<rect x="81.6" y="520.2" width="1.4" height="1.4" opacity="0.85"/>
<rect x="81.6" y="536.4" width="1.4" height="1.4" opacity="0.85"/>
<rect x="81.6" y="552.6" width="1.4" height="1.4" opacity="0.85"/>
<rect x="81.6" y="568.8" width="1.4" height="1.4" opacity="0.85"/>
<rect x="81.6" y="585.0" width="1.4" height="1.4" opacity="0.85"/>
<rect x="81.6" y="601.2" width="1.4" height="1.4" opacity="0.85"/>
<rect x="81.6" y="617.5" width="1.4" height="1.4" opacity="0.85"/>
<rect x="81.6" y="633.7" width="1.4" height="1.4" opacity="0.85"/>
<rect x="81.6" y="649.9" width="1.4" height="1.4" opacity="0.85"/>
<rect x="81.6" y="666.1" width="1.4" height="1.4" opacity="0.85"/>
<rect x="402.8" y="63.0" width="1.4" height="1.4" opacity="0.85"/>
<rect x="402.8" y="79.4" width="1.4" height="1.4" opacity="0.85"/>
<rect x="402.8" y="95.8" width="1.4" height="1.4" opacity="0.85"/>
<rect x="402.8" y="112.2" width="1.4" height="1.4" opacity="0.85"/>
<rect x="402.8" y="128.7" width="1.4" height="1.4" opacity="0.85"/>
<rect x="402.8" y="145.1" width="1.4" height="1.4" opacity="0.85"/>
<rect x="402.8" y="161.5" width="1.4" height="1.4" opacity="0.85"/>
<rect x="402.8" y="177.9" width="1.4" height="1.4" opacity="0.85"/>
<rect x="402.8" y="194.3" width="1.4" height="1.4" opacity="0.85"/>
<rect x="402.8" y="210.7" width="1.4" height="1.4" opacity="0.85"/>
<rect x="402.8" y="227.1" width="1.4" height="1.4" opacity="0.85"/>
<rect x="402.8" y="243.4" width="1.4" height="1.4" opacity="0.85"/>
<rect x="402.8" y="259.8" width="1.4" height="1.4" opacity="0.85"/>
<rect x="402.8" y="276.1" width="1.4" height="1.4" opacity="0.85"/>
<rect x="402.8" y="292.5" width="1.4" height="1.4" opacity="0.85"/>
<rect x="402.8" y="308.9" width="1.4" height="1.4" opacity="0.85"/>
<rect x="402.8" y="325.2" width="1.4" height="1.4" opacity="0.85"/>
<rect x="402.8" y="341.6" width="1.4" height="1.4" opacity="0.85"/>
<rect x="402.8" y="357.9" width="1.4" height="1.4" opacity="0.85"/>
<rect x="402.8" y="374.3" width="1.4" height="1.4" opacity="0.85"/>
<rect x="402.8" y="390.5" width="1.4" height="1.4" opacity="0.85"/>
<rect x="402.8" y="406.7" width="1.4" height="1.4" opacity="0.85"/>
<rect x="402.8" y="422.9" width="1.4" height="1.4" opacity="0.85"/>
<rect x="402.8" y="439.1" width="1.4" height="1.4" opacity="0.85"/>
<rect x="402.8" y="455.4" width="1.4" height="1.4" opacity="0.85"/>
<rect x="402.8" y="471.6" width="1.4" height="1.4" opacity="0.85"/>
<rect x="402.8" y="487.8" width="1.4" height="1.4" opacity="0.85"/>
<rect x="402.8" y="504.0" width="1.4" height="1.4" opacity="0.85"/>
<rect x="402.8" y="520.2" width="1.4" height="1.4" opacity="0.85"/>
<rect x="402.8" y="536.4" width="1.4" height="1.4" opacity="0.85"/>
<rect x="402.8" y="552.6" width="1.4" height="1.4" opacity="0.85"/>
<rect x="402.8" y="568.8" width="1.4" height="1.4" opacity="0.85"/>
<rect x="402.8" y="585.0" width="1.4" height="1.4" opacity="0.85"/>
<rect x="402.8" y="601.2" width="1.4" height="1.4" opacity="0.85"/>
<rect x="402.8" y="617.5" width="1.4" height="1.4" opacity="0.85"/>
<rect x="402.8" y="633.7" width="1.4" height="1.4" opacity="0.85"/>
<rect x="402.8" y="649.9" width="1.4" height="1.4" opacity="0.85"/>
<rect x="402.8" y="666.1" width="1.4" height="1.4" opacity="0.85"/>
<rect x="724.5" y="63.0" width="1.4" height="1.4" opacity="0.85"/>
<rect x="724.5" y="79.4" width="1.4" height="1.4" opacity="0.85"/>
<rect x="724.5" y="95.8" width="1.4" height="1.4" opacity="0.85"/>
<rect x="724.5" y="112.2" width="1.4" height="1.4" opacity="0.85"/>
<rect x="724.5" y="128.7" width="1.4" height="1.4" opacity="0.85"/>
<rect x="724.5" y="145.1" width="1.4" height="1.4" opacity="0.85"/>
<rect x="724.5" y="161.5" width="1.4" height="1.4" opacity="0.85"/>
<rect x="724.5" y="177.9" width="1.4" height="1.4" opacity="0.85"/>
<rect x="724.5" y="194.3" width="1.4" height="1.4" opacity="0.85"/>
<rect x="724.5" y="210.7" width="1.4" height="1.4" opacity="0.85"/>
<rect x="724.5" y="227.1" width="1.4" height="1.4" opacity="0.85"/>
<rect x="724.5" y="243.4" width="1.4" height="1.4" opacity="0.85"/>
<rect x="724.5" y="259.8" width="1.4" height="1.4" opacity="0.85"/>
<rect x="724.5" y="276.1" width="1.4" height="1.4" opacity="0.85"/>
<rect x="724.5" y="292.5" width="1.4" height="1.4" opacity="0.85"/>
<rect x="724.5" y="308.9" width="1.4" height="1.4" opacity="0.85"/>
<rect x="724.5" y="325.2" width="1.4" height="1.4" opacity="0.85"/>
<rect x="724.5" y="341.6" width="1.4" height="1.4" opacity="0.85"/>
<rect x="724.5" y="357.9" width="1.4" height="1.4" opacity="0.85"/>
<rect x="724.5" y="374.3" width="1.4" height="1.4" opacity="0.85"/>
<rect x="724.5" y="390.5" width="1.4" height="1.4" opacity="0.85"/>
<rect x="724.5" y="406.7" width="1.4" height="1.4" opacity="0.85"/>
<rect x="724.5" y="422.9" width="1.4" height="1.4" opacity="0.85"/>
<rect x="724.5" y="439.1" width="1.4" height="1.4" opacity="0.85"/>
<rect x="724.5" y="455.4" width="1.4" height="1.4" opacity="0.85"/>
<rect x="724.5" y="471.6" width="1.4" height="1.4" opacity="0.85"/>
<rect x="724.5" y="487.8" width="1.4" height="1.4" opacity="0.85"/>
<rect x="724.5" y="504.0" width="1.4" height="1.4" opacity="0.85"/>
<rect x="724.5" y="520.2" width="1.4" height="1.4" opacity="0.85"/>
<rect x="724.5" y="536.4" width="1.4" height="1.4" opacity="0.85"/>
<rect x="724.5" y="552.6" width="1.4" height="1.4" opacity="0.85"/>
<rect x="724.5" y="568.8" width="1.4" height="1.4" opacity="0.85"/>
<rect x="724.5" y="585.0" width="1.4" height="1.4" opacity="0.85"/>
<rect x="724.5" y="601.2" width="1.4" height="1.4" opacity="0.85"/>
<rect x="724.5" y="617.5" width="1.4" height="1.4" opacity="0.85"/>
<rect x="724.5" y="633.7" width="1.4" height="1.4" opacity="0.85"/>
<rect x="724.5" y="649.9" width="1.4" height="1.4" opacity="0.85"/>
<rect x="724.5" y="666.1" width="1.4" height="1.4" opacity="0.85"/>
<rect x="154.3" y="79.4" width="1.4" height="1.4" opacity="0.80"/>
<rect x="154.3" y="112.2" width="1.4" height="1.4" opacity="0.80"/>
<rect x="154.3" y="145.1" width="1.4" height="1.4" opacity="0.80"/>
<rect x="154.3" y="177.9" width="1.4" height="1.4" opacity="0.80"/>
<rect x="154.3" y="210.7" width="1.4" height="1.4" opacity="0.80"/>
<rect x="154.3" y="243.4" width="1.4" height="1.4" opacity="0.80"/>
<rect x="154.3" y="276.1" width="1.4" height="1.4" opacity="0.80"/>
<rect x="154.3" y="308.9" width="1.4" height="1.4" opacity="0.80"/>
<rect x="154.3" y="341.6" width="1.4" height="1.4" opacity="0.80"/>
<rect x="154.3" y="374.3" width="1.4" height="1.4" opacity="0.80"/>
<rect x="154.3" y="406.7" width="1.4" height="1.4" opacity="0.80"/>
<rect x="154.3" y="439.1" width="1.4" height="1.4" opacity="0.80"/>
<rect x="154.3" y="471.6" width="1.4" height="1.4" opacity="0.80"/>
<rect x="154.3" y="504.0" width="1.4" height="1.4" opacity="0.80"/>
<rect x="154.3" y="536.4" width="1.4" height="1.4" opacity="0.80"/>
<rect x="154.3" y="568.8" width="1.4" height="1.4" opacity="0.80"/>
<rect x="154.3" y="601.2" width="1.4" height="1.4" opacity="0.80"/>
<rect x="154.3" y="633.7" width="1.4" height="1.4" opacity="0.80"/>
<rect x="154.3" y="666.1" width="1.4" height="1.4" opacity="0.80"/>
<rect x="234.0" y="79.4" width="1.4" height="1.4" opacity="0.80"/>
<rect x="234.0" y="112.2" width="1.4" height="1.4" opacity="0.80"/>
<rect x="234.0" y="145.1" width="1.4" height="1.4" opacity="0.80"/>
<rect x="234.0" y="177.9" width="1.4" height="1.4" opacity="0.80"/>
<rect x="234.0" y="210.7" width="1.4" height="1.4" opacity="0.80"/>
<rect x="234.0" y="243.4" width="1.4" height="1.4" opacity="0.80"/>
<rect x="234.0" y="276.1" width="1.4" height="1.4" opacity="0.80"/>
<rect x="234.0" y="308.9" width="1.4" height="1.4" opacity="0.80"/>
<rect x="234.0" y="341.6" width="1.4" height="1.4" opacity="0.80"/>
<rect x="234.0" y="374.3" width="1.4" height="1.4" opacity="0.80"/>
<rect x="234.0" y="406.7" width="1.4" height="1.4" opacity="0.80"/>
<rect x="234.0" y="439.1" width="1.4" height="1.4" opacity="0.80"/>
<rect x="234.0" y="471.6" width="1.4" height="1.4" opacity="0.80"/>
<rect x="234.0" y="504.0" width="1.4" height="1.4" opacity="0.80"/>
<rect x="234.0" y="536.4" width="1.4" height="1.4" opacity="0.80"/>
<rect x="234.0" y="568.8" width="1.4" height="1.4" opacity="0.80"/>
<rect x="234.0" y="601.2" width="1.4" height="1.4" opacity="0.80"/>
<rect x="234.0" y="633.7" width="1.4" height="1.4" opacity="0.80"/>
<rect x="234.0" y="666.1" width="1.4" height="1.4" opacity="0.80"/>
<rect x="321.7" y="79.4" width="1.4" height="1.4" opacity="0.80"/>
<rect x="321.7" y="112.2" width="1.4" height="1.4" opacity="0.80"/>
<rect x="321.7" y="145.1" width="1.4" height="1.4" opacity="0.80"/>
<rect x="321.7" y="177.9" width="1.4" height="1.4" opacity="0.80"/>
<rect x="321.7" y="210.7" width="1.4" height="1.4" opacity="0.80"/>
<rect x="321.7" y="243.4" width="1.4" height="1.4" opacity="0.80"/>
<rect x="321.7" y="276.1" width="1.4" height="1.4" opacity="0.80"/>
<rect x="321.7" y="308.9" width="1.4" height="1.4" opacity="0.80"/>
<rect x="321.7" y="341.6" width="1.4" height="1.4" opacity="0.80"/>
<rect x="321.7" y="374.3" width="1.4" height="1.4" opacity="0.80"/>
<rect x="321.7" y="406.7" width="1.4" height="1.4" opacity="0.80"/>
<rect x="321.7" y="439.1" width="1.4" height="1.4" opacity="0.80"/>
<rect x="321.7" y="471.6" width="1.4" height="1.4" opacity="0.80"/>
<rect x="321.7" y="504.0" width="1.4" height="1.4" opacity="0.80"/>
<rect x="321.7" y="536.4" width="1.4" height="1.4" opacity="0.80"/>
<rect x="321.7" y="568.8" width="1.4" height="1.4" opacity="0.80"/>
<rect x="321.7" y="601.2" width="1.4" height="1.4" opacity="0.80"/>
<rect x="321.7" y="633.7" width="1.4" height="1.4" opacity="0.80"/>
<rect x="321.7" y="666.1" width="1.4" height="1.4" opacity="0.80"/>
<rect x="483.3" y="79.4" width="1.4" height="1.4" opacity="0.80"/>
<rect x="483.3" y="112.2" width="1.4" height="1.4" opacity="0.80"/>
<rect x="483.3" y="145.1" width="1.4" height="1.4" opacity="0.80"/>
<rect x="483.3" y="177.9" width="1.4" height="1.4" opacity="0.80"/>
<rect x="483.3" y="210.7" width="1.4" height="1.4" opacity="0.80"/>
<rect x="483.3" y="243.4" width="1.4" height="1.4" opacity="0.80"/>
<rect x="483.3" y="276.1" width="1.4" height="1.4" opacity="0.80"/>
<rect x="483.3" y="308.9" width="1.4" height="1.4" opacity="0.80"/>
<rect x="483.3" y="341.6" width="1.4" height="1.4" opacity="0.80"/>
<rect x="483.3" y="374.3" width="1.4" height="1.4" opacity="0.80"/>
<rect x="483.3" y="406.7" width="1.4" height="1.4" opacity="0.80"/>
<rect x="483.3" y="439.1" width="1.4" height="1.4" opacity="0.80"/>
<rect x="483.3" y="471.6" width="1.4" height="1.4" opacity="0.80"/>
<rect x="483.3" y="504.0" width="1.4" height="1.4" opacity="0.80"/>
<rect x="483.3" y="536.4" width="1.4" height="1.4" opacity="0.80"/>
<rect x="483.3" y="568.8" width="1.4" height="1.4" opacity="0.80"/>
<rect x="483.3" y="601.2" width="1.4" height="1.4" opacity="0.80"/>
<rect x="483.3" y="633.7" width="1.4" height="1.4" opacity="0.80"/>
<rect x="483.3" y="666.1" width="1.4" height="1.4" opacity="0.80"/>
<rect x="562.7" y="79.4" width="1.4" height="1.4" opacity="0.80"/>
<rect x="562.7" y="112.2" width="1.4" height="1.4" opacity="0.80"/>
<rect x="562.7" y="145.1" width="1.4" height="1.4" opacity="0.80"/>
<rect x="562.7" y="177.9" width="1.4" height="1.4" opacity="0.80"/>
<rect x="562.7" y="210.7" width="1.4" height="1.4" opacity="0.80"/>
<rect x="562.7" y="243.4" width="1.4" height="1.4" opacity="0.80"/>
<rect x="562.7" y="276.1" width="1.4" height="1.4" opacity="0.80"/>
<rect x="562.7" y="308.9" width="1.4" height="1.4" opacity="0.80"/>
<rect x="562.7" y="341.6" width="1.4" height="1.4" opacity="0.80"/>
<rect x="562.7" y="374.3" width="1.4" height="1.4" opacity="0.80"/>
<rect x="562.7" y="406.7" width="1.4" height="1.4" opacity="0.80"/>
<rect x="562.7" y="439.1" width="1.4" height="1.4" opacity="0.80"/>
<rect x="562.7" y="471.6" width="1.4" height="1.4" opacity="0.80"/>
<rect x="562.7" y="504.0" width="1.4" height="1.4" opacity="0.80"/>
<rect x="562.7" y="536.4" width="1.4" height="1.4" opacity="0.80"/>
<rect x="562.7" y="568.8" width="1.4" height="1.4" opacity="0.80"/>
<rect x="562.7" y="601.2" width="1.4" height="1.4" opacity="0.80"/>
<rect x="562.7" y="633.7" width="1.4" height="1.4" opacity="0.80"/>
<rect x="562.7" y="666.1" width="1.4" height="1.4" opacity="0.80"/>
<rect x="644.3" y="79.4" width="1.4" height="1.4" opacity="0.80"/>
<rect x="644.3" y="112.2" width="1.4" height="1.4" opacity="0.80"/>
<rect x="644.3" y="145.1" width="1.4" height="1.4" opacity="0.80"/>
<rect x="644.3" y="177.9" width="1.4" height="1.4" opacity="0.80"/>
<rect x="644.3" y="210.7" width="1.4" height="1.4" opacity="0.80"/>
<rect x="644.3" y="243.4" width="1.4" height="1.4" opacity="0.80"/>
<rect x="644.3" y="276.1" width="1.4" height="1.4" opacity="0.80"/>
<rect x="644.3" y="308.9" width="1.4" height="1.4" opacity="0.80"/>
<rect x="644.3" y="341.6" width="1.4" height="1.4" opacity="0.80"/>
<rect x="644.3" y="374.3" width="1.4" height="1.4" opacity="0.80"/>
<rect x="644.3" y="406.7" width="1.4" height="1.4" opacity="0.80"/>
<rect x="644.3" y="439.1" width="1.4" height="1.4" opacity="0.80"/>
<rect x="644.3" y="471.6" width="1.4" height="1.4" opacity="0.80"/>
<rect x="644.3" y="504.0" width="1.4" height="1.4" opacity="0.80"/>
<rect x="644.3" y="536.4" width="1.4" height="1.4" opacity="0.80"/>
<rect x="644.3" y="568.8" width="1.4" height="1.4" opacity="0.80"/>
<rect x="644.3" y="601.2" width="1.4" height="1.4" opacity="0.80"/>
<rect x="644.3" y="633.7" width="1.4" height="1.4" opacity="0.80"/>
<rect x="644.3" y="666.1" width="1.4" height="1.4" opacity="0.80"/>
<rect x="804.3" y="79.4" width="1.4" height="1.4" opacity="0.45"/>
<rect x="804.3" y="112.2" width="1.4" height="1.4" opacity="0.45"/>
<rect x="804.3" y="145.1" width="1.4" height="1.4" opacity="0.45"/>
<rect x="804.3" y="177.9" width="1.4" height="1.4" opacity="0.45"/>
<rect x="804.3" y="210.7" width="1.4" height="1.4" opacity="0.45"/>
<rect x="804.3" y="243.4" width="1.4" height="1.4" opacity="0.45"/>
<rect x="804.3" y="276.1" width="1.4" height="1.4" opacity="0.45"/>
<rect x="804.3" y="308.9" width="1.4" height="1.4" opacity="0.45"/>
<rect x="804.3" y="341.6" width="1.4" height="1.4" opacity="0.45"/>
<rect x="804.3" y="374.3" width="1.4" height="1.4" opacity="0.45"/>
<rect x="804.3" y="406.7" width="1.4" height="1.4" opacity="0.45"/>
<rect x="804.3" y="439.1" width="1.4" height="1.4" opacity="0.45"/>
<rect x="804.3" y="471.6" width="1.4" height="1.4" opacity="0.45"/>
<rect x="804.3" y="504.0" width="1.4" height="1.4" opacity="0.45"/>
<rect x="804.3" y="536.4" width="1.4" height="1.4" opacity="0.45"/>
<rect x="804.3" y="568.8" width="1.4" height="1.4" opacity="0.45"/>
<rect x="804.3" y="601.2" width="1.4" height="1.4" opacity="0.45"/>
<rect x="804.3" y="633.7" width="1.4" height="1.4" opacity="0.45"/>
<rect x="804.3" y="666.1" width="1.4" height="1.4" opacity="0.45"/>
<rect x="884.8" y="79.4" width="1.4" height="1.4" opacity="0.45"/>
<rect x="884.8" y="112.2" width="1.4" height="1.4" opacity="0.45"/>
<rect x="884.8" y="145.1" width="1.4" height="1.4" opacity="0.45"/>
<rect x="884.8" y="177.9" width="1.4" height="1.4" opacity="0.45"/>
<rect x="884.8" y="210.7" width="1.4" height="1.4" opacity="0.45"/>
<rect x="884.8" y="243.4" width="1.4" height="1.4" opacity="0.45"/>
<rect x="884.8" y="276.1" width="1.4" height="1.4" opacity="0.45"/>
<rect x="884.8" y="308.9" width="1.4" height="1.4" opacity="0.45"/>
<rect x="884.8" y="341.6" width="1.4" height="1.4" opacity="0.45"/>
<rect x="884.8" y="374.3" width="1.4" height="1.4" opacity="0.45"/>
<rect x="884.8" y="406.7" width="1.4" height="1.4" opacity="0.45"/>
<rect x="884.8" y="439.1" width="1.4" height="1.4" opacity="0.45"/>
<rect x="884.8" y="471.6" width="1.4" height="1.4" opacity="0.45"/>
<rect x="884.8" y="504.0" width="1.4" height="1.4" opacity="0.45"/>
<rect x="884.8" y="536.4" width="1.4" height="1.4" opacity="0.45"/>
<rect x="884.8" y="568.8" width="1.4" height="1.4" opacity="0.45"/>
<rect x="884.8" y="601.2" width="1.4" height="1.4" opacity="0.45"/>
<rect x="884.8" y="633.7" width="1.4" height="1.4" opacity="0.45"/>
<rect x="884.8" y="666.1" width="1.4" height="1.4" opacity="0.45"/>
</g>
<path d="M60.0 493.3V512.5M65.4 487.8V512.5M71.0 487.5V497.3M76.3 489.4V519.3M82.3 513.2V548.3M87.9 486.2V549.9M93.8 482.2V503.4M99.4 454.6V491.3M105.5 417.0V461.6M111.7 394.0V428.7M117.5 393.0V413.0M123.7 396.0V420.0M130.0 372.0V403.0M136.0 373.7V399.0M142.4 387.7V423.0M148.0 392.0V418.0M154.4 386.0V413.0M160.5 396.0V420.0M167.0 368.0V401.6M173.0 383.5V404.0M179.0 389.0V414.7M185.0 379.0V403.0M191.5 394.6V425.0M197.6 397.0V411.0M203.7 364.0V401.6M210.0 362.5V385.0M216.0 372.0V394.6M222.7 369.5V393.0M229.0 383.5V411.0M235.0 384.0V405.0M241.0 374.6V403.0M247.6 365.0V381.0M254.0 364.0V387.0M259.7 362.0V384.0M265.7 362.0V378.0M271.6 362.0V388.0M278.3 356.5V418.2M284.8 354.0V369.0M291.0 353.0V373.5M297.6 369.0V382.0M304.0 361.0V379.0M310.0 362.0V372.5M316.0 364.0V386.0M322.0 379.0V392.6M328.4 348.0V380.0M334.8 348.0V375.6M341.0 346.0V371.0M347.5 348.0V365.0M353.5 349.0V391.6M359.8 381.0V410.7M365.6 398.0V415.0M371.5 392.6V417.0M377.6 398.0V425.6M383.6 389.5V412.0M389.8 340.6V397.0M397.0 306.3V340.5M403.5 300.0V315.0M409.5 283.0V316.5M416.0 286.8V304.4M421.8 276.0V304.4M428.3 280.6V306.0M434.5 281.5V302.6M440.6 282.4V304.4M446.8 278.0V295.6M453.0 276.0V304.4M459.0 293.8V313.0M465.8 283.0V307.0M471.8 282.4V301.7M478.0 288.6V306.0M484.0 276.0V321.0M490.4 253.4V294.7M496.9 255.0V273.6M503.0 256.0V282.4M509.2 249.0V264.8M515.3 243.7V261.3M521.5 242.0V259.5M528.0 236.7V257.8M534.0 236.7V252.5M540.4 242.0V270.0M546.3 254.0V286.8M552.5 274.5V292.0M558.7 252.5V282.4M565.0 259.5V286.0M571.3 256.0V271.9M577.3 265.7V286.8M583.4 243.7V282.4M589.7 243.7V266.6M595.9 262.0V274.5M602.0 264.8V292.0M608.2 285.0V307.9M614.4 271.9V292.0M620.9 271.9V291.0M627.0 252.5V275.4M633.2 267.5V297.3M639.5 284.0V310.5M645.5 309.6V337.8M651.6 304.4V330.7M657.8 304.4V320.0M664.0 292.0V307.9M670.4 287.7V304.4M676.6 290.3V302.6M682.7 299.0V314.0M689.0 278.0V304.4M695.0 272.7V286.8M701.4 264.8V280.3M707.4 272.3V294.3M713.6 266.6V276.3M719.5 259.5V276.6M726.0 269.3V300.0M732.2 281.6V296.6M738.3 281.6V300.0M744.5 270.2V291.3M750.6 229.8V273.7M756.8 225.4V247.3M762.9 247.3V286.9M769.0 251.7V272.0M775.2 234.2V263.2M781.4 217.5V242.0M787.5 219.2V236.8M793.7 217.5V233.3M799.8 217.5V256.0M806.0 243.0V256.0M812.0 217.5V245.6M818.6 219.2V242.0M824.8 228.9V249.0M831.0 225.4V238.6M837.0 216.6V233.3M843.2 204.5V238.8M849.4 190.0V215.6M855.4 188.6V203.2M861.6 195.7V216.0M867.8 202.4V219.5M874.0 207.5V223.0M880.0 201.0V218.5M886.4 203.0V228.7M892.6 195.9V207.2M898.6 194.0V207.8M904.9 183.3V200.6M910.8 190.5V200.0M917.0 183.3V194.0" stroke="#000" stroke-width="1.9" fill="none"/>
<path d="M60.0 500.1h2.0M65.4 492.4h2.0M65.4 500.1h-2.0M71.0 496.4h2.0M71.0 492.4h-2.0M76.3 518.4h2.0M76.3 496.4h-2.0M82.3 518.0h2.0M82.3 518.4h-2.0M87.9 492.8h2.0M87.9 518.0h-2.0M93.8 483.1h2.0M93.8 492.8h-2.0M99.4 455.5h2.0M99.4 483.1h-2.0M105.5 417.9h2.0M105.5 455.5h-2.0M111.7 403.0h2.0M111.7 417.9h-2.0M117.5 408.0h2.0M117.5 403.0h-2.0M123.7 396.9h2.0M123.7 408.0h-2.0M130.0 386.4h2.0M130.0 396.9h-2.0M136.0 398.1h2.0M136.0 386.4h-2.0M142.4 405.0h2.0M142.4 398.1h-2.0M148.0 399.5h2.0M148.0 405.0h-2.0M154.4 408.0h2.0M154.4 399.5h-2.0M160.5 396.9h2.0M160.5 408.0h-2.0M167.0 393.8h2.0M167.0 396.9h-2.0M173.0 401.9h2.0M173.0 393.8h-2.0M179.0 391.0h2.0M179.0 401.9h-2.0M185.0 402.1h2.0M185.0 391.0h-2.0M191.5 404.0h2.0M191.5 402.1h-2.0M197.6 397.9h2.0M197.6 404.0h-2.0M203.7 373.8h2.0M203.7 397.9h-2.0M210.0 383.3h2.0M210.0 373.8h-2.0M216.0 381.2h2.0M216.0 383.3h-2.0M222.7 392.1h2.0M222.7 381.2h-2.0M229.0 394.5h2.0M229.0 392.1h-2.0M235.0 388.8h2.0M235.0 394.5h-2.0M241.0 375.5h2.0M241.0 388.8h-2.0M247.6 375.5h2.0M247.6 375.5h-2.0M254.0 373.0h2.0M254.0 375.5h-2.0M259.7 370.0h2.0M259.7 373.0h-2.0M265.7 375.0h2.0M265.7 370.0h-2.0M271.6 387.1h2.0M271.6 375.0h-2.0M278.3 361.5h2.0M278.3 387.1h-2.0M284.8 363.2h2.0M284.8 361.5h-2.0M291.0 372.6h2.0M291.0 363.2h-2.0M297.6 370.0h2.0M297.6 372.6h-2.0M304.0 367.2h2.0M304.0 370.0h-2.0M310.0 371.6h2.0M310.0 367.2h-2.0M316.0 385.1h2.0M316.0 371.6h-2.0M322.0 379.9h2.0M322.0 385.1h-2.0M328.4 361.8h2.0M328.4 379.1h-2.0M334.8 358.5h2.0M334.8 361.8h-2.0M341.0 356.5h2.0M341.0 358.5h-2.0M347.5 364.1h2.0M347.5 356.5h-2.0M353.5 390.7h2.0M353.5 364.1h-2.0M359.8 406.5h2.0M359.8 390.7h-2.0M365.6 404.8h2.0M365.6 406.5h-2.0M371.5 411.8h2.0M371.5 404.8h-2.0M377.6 400.8h2.0M377.6 411.8h-2.0M383.6 390.4h2.0M383.6 400.8h-2.0M389.8 341.5h2.0M389.8 390.4h-2.0M397.0 307.5h2.0M397.0 339.6h-2.0M403.5 300.9h2.0M403.5 307.5h-2.0M409.5 295.6h2.0M409.5 300.9h-2.0M416.0 290.2h2.0M416.0 295.6h-2.0M421.8 293.3h2.0M421.8 290.2h-2.0M428.3 292.1h2.0M428.3 293.3h-2.0M434.5 293.4h2.0M434.5 292.1h-2.0M440.6 286.8h2.0M440.6 293.4h-2.0M446.8 290.2h2.0M446.8 286.8h-2.0M453.0 303.4h2.0M453.0 290.2h-2.0M459.0 295.0h2.0M459.0 303.4h-2.0M465.8 292.0h2.0M465.8 295.0h-2.0M471.8 297.3h2.0M471.8 292.0h-2.0M478.0 298.5h2.0M478.0 297.3h-2.0M484.0 276.9h2.0M484.0 298.5h-2.0M490.4 264.3h2.0M490.4 276.9h-2.0M496.9 269.2h2.0M496.9 264.3h-2.0M503.0 256.9h2.0M503.0 269.2h-2.0M509.2 252.5h2.0M509.2 256.9h-2.0M515.3 250.8h2.0M515.3 252.5h-2.0M521.5 247.2h2.0M521.5 250.8h-2.0M528.0 244.6h2.0M528.0 247.2h-2.0M534.0 251.6h2.0M534.0 244.6h-2.0M540.4 269.1h2.0M540.4 251.6h-2.0M546.3 283.2h2.0M546.3 269.1h-2.0M552.5 275.4h2.0M552.5 283.2h-2.0M558.7 272.8h2.0M558.7 275.4h-2.0M565.0 263.9h2.0M565.0 272.8h-2.0M571.3 271.0h2.0M571.3 263.9h-2.0M577.3 266.6h2.0M577.3 271.0h-2.0M583.4 255.2h2.0M583.4 266.6h-2.0M589.7 265.7h2.0M589.7 255.2h-2.0M595.9 273.6h2.0M595.9 265.7h-2.0M602.0 291.1h2.0M602.0 273.6h-2.0M608.2 285.9h2.0M608.2 291.1h-2.0M614.4 281.4h2.0M614.4 285.9h-2.0M620.9 272.8h2.0M620.9 281.4h-2.0M627.0 274.5h2.0M627.0 272.8h-2.0M633.2 296.4h2.0M633.2 274.5h-2.0M639.5 309.6h2.0M639.5 296.4h-2.0M645.5 317.5h2.0M645.5 310.5h-2.0M651.6 312.2h2.0M651.6 317.5h-2.0M657.8 305.3h2.0M657.8 312.2h-2.0M664.0 296.0h2.0M664.0 305.3h-2.0M670.4 296.5h2.0M670.4 296.0h-2.0M676.6 301.7h2.0M676.6 296.5h-2.0M682.7 299.9h2.0M682.7 301.7h-2.0M689.0 279.8h2.0M689.0 299.9h-2.0M695.0 273.6h2.0M695.0 279.8h-2.0M701.4 279.4h2.0M701.4 273.6h-2.0M707.4 273.2h2.0M707.4 279.4h-2.0M713.6 268.1h2.0M713.6 273.2h-2.0M719.5 275.7h2.0M719.5 268.1h-2.0M726.0 289.1h2.0M726.0 275.7h-2.0M732.2 290.8h2.0M732.2 289.1h-2.0M738.3 282.5h2.0M738.3 290.8h-2.0M744.5 271.1h2.0M744.5 282.5h-2.0M750.6 236.4h2.0M750.6 271.1h-2.0M756.8 246.4h2.0M756.8 236.4h-2.0M762.9 261.9h2.0M762.9 248.2h-2.0M769.0 252.6h2.0M769.0 261.9h-2.0M775.2 235.1h2.0M775.2 252.6h-2.0M781.4 228.0h2.0M781.4 235.1h-2.0M787.5 225.4h2.0M787.5 228.0h-2.0M793.7 232.4h2.0M793.7 225.4h-2.0M799.8 249.5h2.0M799.8 232.4h-2.0M806.0 243.9h2.0M806.0 249.5h-2.0M812.0 230.6h2.0M812.0 243.9h-2.0M818.6 238.9h2.0M818.6 230.6h-2.0M824.8 232.0h2.0M824.8 238.9h-2.0M831.0 226.3h2.0M831.0 232.0h-2.0M837.0 221.7h2.0M837.0 226.3h-2.0M843.2 205.4h2.0M843.2 221.7h-2.0M849.4 195.9h2.0M849.4 205.4h-2.0M855.4 202.3h2.0M855.4 195.9h-2.0M861.6 210.9h2.0M861.6 202.3h-2.0M867.8 215.2h2.0M867.8 210.9h-2.0M874.0 209.8h2.0M874.0 215.2h-2.0M880.0 215.8h2.0M880.0 209.8h-2.0M886.4 203.9h2.0M886.4 215.8h-2.0M892.6 200.9h2.0M892.6 203.9h-2.0M898.6 194.9h2.0M898.6 200.9h-2.0M904.9 195.2h2.0M904.9 194.9h-2.0M910.8 191.4h2.0M910.8 195.2h-2.0M917.0 185.3h2.0M917.0 191.4h-2.0" stroke="#000" stroke-width="1.4" fill="none"/>
<g stroke="#000" fill="none" stroke-linecap="round">
<path d="M414 323.4 L741.5 313.7" stroke-width="2.3"/>
<path d="M587.3 368 L920 208" stroke-width="2.7"/>
<path d="M371.7 419.6 L290 418.6" stroke-width="2"/>
<path d="M481 420.4 L390 420.9" stroke-width="2"/>
<path d="M361.3 320 L346 342.5" stroke-width="2.4"/>
<path d="M690.6 396.2 L653.5 349.5" stroke-width="2.2"/>
</g>
<g fill="#000">
<path d="M283 418.5 L293 416.1 L293 421.1 Z"/>
<path d="M382.6 421 L393 418.5 L393 423.5 Z"/>
<path d="M342.8 347 L344.3 338.0 L349.3 341.4 Z"/>
<path d="M649.2 344 L657.0 349.6 L653.0 352.8 Z"/>
</g>
<text x="34.0" y="36.6" style="font-size:15.5px">11:46</text>
<text x="441.0" y="37.3">DJ <tspan class="c" dx=".7">周线图</tspan></text>
<text x="790.8" y="38.0" style="font-size:18px">©</text>
<text x="813.3" y="37.5" style="font-size:16.2px">1993 CQG INC.</text>
<text x="31.5" y="56.1">O= 35 571</text>
<text x="31.5" y="72.7">H= 35 853</text>
<text x="31.5" y="89.1">L= 35 548</text>
<text x="31.5" y="105.5">L= 35 831</text>
<text x="31.5" y="123.0">Δ=</text>
<text x="68.3" y="123.0">+227</text>
<text x="954.3" y="53.5">40 000</text>
<text x="954.3" y="215.7">35 000</text>
<text x="954.3" y="378.8">30 000</text>
<text x="954.3" y="541.4">25 000</text>
<text x="32.0" y="622.8">1993<tspan class="c" dx=".7">年</tspan>8<tspan class="c" dx=".7">月</tspan>9<tspan class="c" dx=".7">日</tspan></text>
<text x="31.5" y="640.1">O= 35 571</text>
<text x="31.5" y="656.4">H= 35 853</text>
<text x="31.5" y="672.9">L= 35 548</text>
<text x="31.5" y="689.3">C= 35 831 n</text>
<text x="156.6" y="687.5">4<tspan class="c" dx=".7">月</tspan></text>
<text x="239.4" y="687.5">7<tspan class="c" dx=".7">月</tspan></text>
<text x="322.0" y="687.5">10<tspan class="c" dx=".7">月</tspan></text>
<text x="405.0" y="687.5">1<tspan class="c" dx=".7">月</tspan></text>
<text x="484.7" y="687.5">4<tspan class="c" dx=".7">月</tspan></text>
<text x="568.0" y="687.5">7<tspan class="c" dx=".7">月</tspan></text>
<text x="651.0" y="687.5">10<tspan class="c" dx=".7">月</tspan></text>
<text x="733.0" y="687.5">1<tspan class="c" dx=".7">月</tspan></text>
<text x="813.8" y="687.5">4<tspan class="c" dx=".7">月</tspan></text>
<text x="896.0" y="687.5">7<tspan class="c" dx=".7">月</tspan></text>
<text x="83.3" y="709.9">1991</text>
<text x="406.6" y="709.9">1992</text>
<text x="729.0" y="709.9">1993</text>
<text x="24.3" y="739.8" style="font-size:18px">©</text>
<text x="43.3" y="739.6" style="font-size:16.3px">Copyright 1993 CQG INC.</text>
<text x="172.4" y="446.6">2 840</text>
<text x="264.0" y="446.6">2 860</text>
<text x="340.6" y="310.7">2B<tspan class="c" dx=".7">卖出</tspan></text>
<text x="489.7" y="420.1">2B<tspan class="c" dx=".7">买进</tspan></text>
<text x="489.7" y="435.6">2 839</text>
<text x="671.7" y="416.0">2B<tspan class="c" dx=".7">买进</tspan></text>
</svg></body></html>
